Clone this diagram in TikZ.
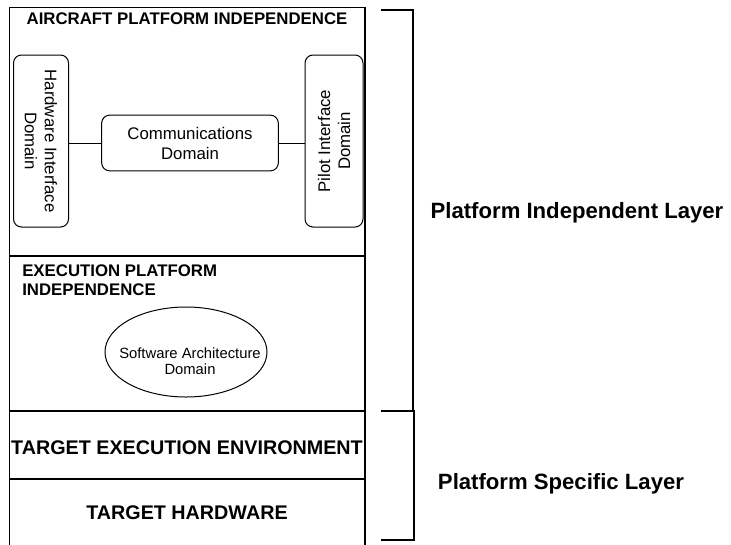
\documentclass[tikz,border=0pt]{standalone}
\usepackage{fontspec}
\setmainfont{Liberation Sans}
\usetikzlibrary{shapes.geometric}
\newcommand{\fsz}[2]{\fontsize{#1}{#2}\selectfont}

\begin{document}
\begin{tikzpicture}[x=0.75pt,y=-0.75pt,
  frameline/.style={line width=1.1pt},
  bracketline/.style={line width=1pt},
  domainbox/.style={draw,rounded corners=6pt,line width=0.75pt,inner sep=0pt,
    align=center,font=\fsz{12.6}{15}},
  heading/.style={inner sep=0pt,font=\fsz{12.6}{14.25}\bfseries},
  bigheading/.style={inner sep=0pt,font=\fsz{14.8}{17}\bfseries},
  layerlabel/.style={inner sep=0pt,anchor=base,font=\fsz{16.6}{19}\bfseries}]
\useasboundingbox (0,0) rectangle (731,544);

% outer frame (bottom edge runs off the page) and layer dividers
\draw[frameline] (9.5,550) -- (9.5,7.5) -- (365,7.5) -- (365,550);
\draw[frameline] (9.5,256) -- (365,256);
\draw[frameline] (9.5,411) -- (365,411);
\draw[frameline] (9.5,479) -- (365,479);

% aircraft platform independence layer
\node[heading] (aptitle) at (187,19) {AIRCRAFT PLATFORM INDEPENDENCE};
\node[domainbox,rotate=-90,minimum width=129pt,minimum height=41.25pt]
  (hw) at (41,141) {Hardware Interface\\Domain};
\node[domainbox,minimum width=132.5pt,minimum height=41.8pt]
  (comm) at (190,143) {Communications\\Domain};
\node[domainbox,rotate=90,minimum width=129pt,minimum height=43.5pt]
  (pilot) at (334,141) {Pilot Interface\\Domain};
\draw[line width=0.75pt] (comm.west) -- (comm.west -| hw.north);
\draw[line width=0.75pt] (comm.east) -- (comm.east -| pilot.north);

% execution platform independence layer
\node[heading,anchor=west,align=left] (eptitle) at (22,280.5)
  {EXECUTION PLATFORM\\INDEPENDENCE};
\node[draw,ellipse,line width=0.75pt,minimum width=121.5pt,minimum height=67.5pt]
  (sa) at (186,352) {};
\node[inner sep=0pt,align=center,font=\fsz{11.1}{11.5}]
  (satext) at ([xshift=3pt,yshift=-7pt]sa.center) {Software Architecture\\Domain};

% platform specific layers
\node[bigheading] (tee) at (187,448) {TARGET EXECUTION ENVIRONMENT};
\node[bigheading] (thw) at (187,513) {TARGET HARDWARE};

% brackets and their labels
\draw[bracketline] (381,10) -- (413,10) -- (413,411);
\draw[bracketline] (381,411) -- (414,411) -- (414,540) -- (381,540);
\node[layerlabel] (pil) at (577,218) {Platform Independent Layer};
\node[layerlabel] (psl) at (561,489) {Platform Specific Layer};
\end{tikzpicture}
\end{document}
